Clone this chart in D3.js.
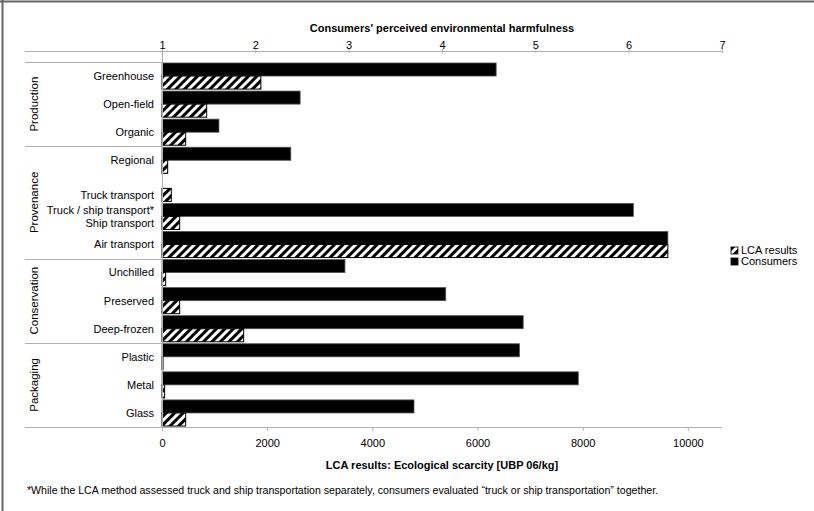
<!DOCTYPE html>
<html>
<head>
<meta charset="utf-8">
<script src="https://cdn.jsdelivr.net/npm/d3@7"></script>
<style>
  html, body { margin: 0; padding: 0; background: #fff; }
  svg { display: block; font-family: "Liberation Sans", Arial, Helvetica, sans-serif; }
</style>
</head>
<body>
<svg id="chart" width="814" height="511"></svg>
<script>
// ---- Data ----
const categories = ["Greenhouse", "Open-field", "Organic", "Regional", "Truck transport",
  "Truck / ship transport*", "Air transport", "Unchilled", "Preserved", "Deep-frozen",
  "Plastic", "Metal", "Glass"];
// second label for categories where the LCA bar carries a different label
const lcaOnlyLabels = [null, null, null, null, null, "Ship transport", null, null, null, null, null, null, null];
const groups = ["Production", "Provenance", "Conservation", "Packaging"];
const groupSizes = [3, 4, 3, 3];
// Consumers' perceived environmental harmfulness (1-7 scale)
const consumerValues = [4.58, 2.48, 1.61, 2.38, null, 6.05, 6.42, 2.96, 4.04, 4.87, 4.83, 5.46, 3.70];
// LCA results: Ecological scarcity [UBP 06/kg]
const lcaValues = [1880, 850, 450, 108, 177, 336, 9620, 70, 336, 1553, 20, 50, 450];
const topTicks = [1, 2, 3, 4, 5, 6, 7];
const bottomTicks = [0, 2000, 4000, 6000, 8000, 10000];
const seriesNames = ["LCA results", "Consumers"];
const topTitle = "Consumers' perceived environmental harmfulness";
const bottomTitle = "LCA results: Ecological scarcity [UBP 06/kg]";
const footnote = "*While the LCA method assessed truck and ship transportation separately, consumers evaluated \u201ctruck or ship transportation\u201d together.";

// ---- Layout ----
const svg = d3.select("#chart");
const plotL = 162, plotR = 722, plotT = 62, plotB = 427, axisTopY = 51, groupLeft = 25;
const axisColor = "#b0b0b0";

// frame lines (top & left)
svg.append("line").attr("x1", 0).attr("x2", 814).attr("y1", 1.5).attr("y2", 1.5).attr("stroke", "#666").attr("stroke-width", 2);
svg.append("line").attr("x1", 2.5).attr("x2", 2.5).attr("y1", 0).attr("y2", 511).attr("stroke", "#666").attr("stroke-width", 2);

// hatch pattern
const defs = svg.append("defs");
const pat = defs.append("pattern").attr("id", "hatch").attr("patternUnits", "userSpaceOnUse")
  .attr("width", 6).attr("height", 6).attr("patternTransform", "rotate(45)");
pat.append("rect").attr("width", 6).attr("height", 6).attr("fill", "#fff");
pat.append("rect").attr("x", 0).attr("width", 3).attr("height", 6).attr("fill", "#000");

// scales
const xTop = d3.scaleLinear().domain([1, 7]).range([plotL, plotR]);
const xBot = d3.scaleLinear().domain([0, 10650]).range([plotL, plotR]);
const y = d3.scaleBand().domain(d3.range(categories.length)).range([plotT, plotB]).paddingInner(0.07).paddingOuter(0.035);
const sub = d3.scaleBand().domain(["c", "l"]).range([0, y.bandwidth()]);

// bars: consumers
const gBars = svg.append("g");
gBars.selectAll("rect.cons").data(consumerValues.map((v, i) => ({v, i})).filter(d => d.v != null))
  .join("rect").attr("class", "cons")
  .attr("x", xTop(1)).attr("y", d => y(d.i) + sub("c"))
  .attr("width", d => xTop(d.v) - xTop(1)).attr("height", sub.bandwidth())
  .attr("fill", "#000").attr("stroke", "#555").attr("stroke-width", 0.8);
// bars: LCA
gBars.selectAll("rect.lca").data(lcaValues.map((v, i) => ({v, i})).filter(d => d.v != null))
  .join("rect").attr("class", "lca")
  .attr("x", xBot(0)).attr("y", d => y(d.i) + sub("l"))
  .attr("width", d => xBot(d.v) - xBot(0)).attr("height", sub.bandwidth())
  .attr("fill", "url(#hatch)").attr("stroke", "#000").attr("stroke-width", 1);

// top axis
const topAxis = d3.axisTop(xTop).tickValues(topTicks).tickSize(-4).tickPadding(2).tickFormat(d3.format("d"));
const gTop = svg.append("g").attr("transform", `translate(0,${axisTopY})`).call(topAxis);
gTop.select(".domain").remove();
gTop.append("line").attr("x1", groupLeft).attr("x2", plotR).attr("y1", 0.5).attr("y2", 0.5).attr("stroke", axisColor);
gTop.selectAll(".tick line").attr("stroke", axisColor).attr("transform", "translate(0,-2)");
gTop.selectAll(".tick text").attr("font-size", 11).attr("fill", "#000").attr("font-family", "Liberation Sans, Arial, sans-serif");
svg.append("text").attr("x", (plotL + plotR) / 2).attr("y", 32).attr("text-anchor", "middle")
  .attr("font-size", 11).attr("font-weight", "bold").text(topTitle);

// bottom axis
const botAxis = d3.axisBottom(xBot).tickValues(bottomTicks).tickSize(4).tickPadding(8).tickFormat(d3.format("d"));
const gBot = svg.append("g").attr("transform", `translate(0,${plotB})`).call(botAxis);
gBot.select(".domain").remove();
gBot.append("line").attr("x1", groupLeft).attr("x2", plotR).attr("y1", 0.5).attr("y2", 0.5).attr("stroke", axisColor);
gBot.selectAll(".tick line").attr("stroke", axisColor);
gBot.selectAll(".tick text").attr("font-size", 11).attr("fill", "#000").attr("font-family", "Liberation Sans, Arial, sans-serif");
svg.append("text").attr("x", (plotL + plotR) / 2).attr("y", 469).attr("text-anchor", "middle")
  .attr("font-size", 11).attr("font-weight", "bold").text(bottomTitle);

// category axis vertical line
svg.append("line").attr("x1", plotL + 0.5).attr("x2", plotL + 0.5).attr("y1", axisTopY).attr("y2", plotB + 4)
  .attr("stroke", axisColor);

// group separators and labels
let acc = 0;
const bounds = [0];
groupSizes.forEach(s => { acc += s; bounds.push(acc); });
const boundY = i => i === 0 ? plotT : (i === categories.length ? plotB : y(i) - y.step() * y.paddingInner() / 2);
bounds.forEach(b => {
  const yy = Math.round(boundY(b)) + 0.5;
  svg.append("line").attr("x1", groupLeft).attr("x2", plotL).attr("y1", yy).attr("y2", yy).attr("stroke", axisColor);
});
groups.forEach((g, gi) => {
  const y0 = boundY(bounds[gi]), y1 = boundY(bounds[gi + 1]);
  const cy = (y0 + y1) / 2;
  svg.append("text").attr("transform", `translate(38,${cy}) rotate(-90)`).attr("text-anchor", "middle")
    .attr("font-size", 11.5).text(g);
});

// category labels
const labX = 154;
categories.forEach((c, i) => {
  let yy;
  if (consumerValues[i] == null) yy = y(i) + sub("l") + sub.bandwidth() / 2;
  else if (lcaOnlyLabels[i]) yy = y(i) + sub("c") + sub.bandwidth() / 2;
  else yy = y(i) + y.bandwidth() / 2;
  svg.append("text").attr("x", labX).attr("y", yy).attr("dy", "0.35em").attr("text-anchor", "end")
    .attr("font-size", 11).text(c);
  if (lcaOnlyLabels[i]) {
    svg.append("text").attr("x", labX).attr("y", y(i) + sub("l") + sub.bandwidth() / 2).attr("dy", "0.35em")
      .attr("text-anchor", "end").attr("font-size", 11).text(lcaOnlyLabels[i]);
  }
});

// legend
const leg = svg.append("g").attr("transform", "translate(731,247)");
seriesNames.forEach((n, i) => {
  const gy = i * 11;
  leg.append("rect").attr("x", 0).attr("y", gy).attr("width", 7).attr("height", 7)
    .attr("fill", i === 0 ? "url(#hatch)" : "#000").attr("stroke", "#000").attr("stroke-width", 0.8);
  leg.append("text").attr("x", 10).attr("y", gy + 3.5).attr("dy", "0.35em").attr("font-size", 11).text(n);
});

// footnote
svg.append("text").attr("x", 27).attr("y", 494).attr("font-size", 10.6).text(footnote);
</script>
</body>
</html>
